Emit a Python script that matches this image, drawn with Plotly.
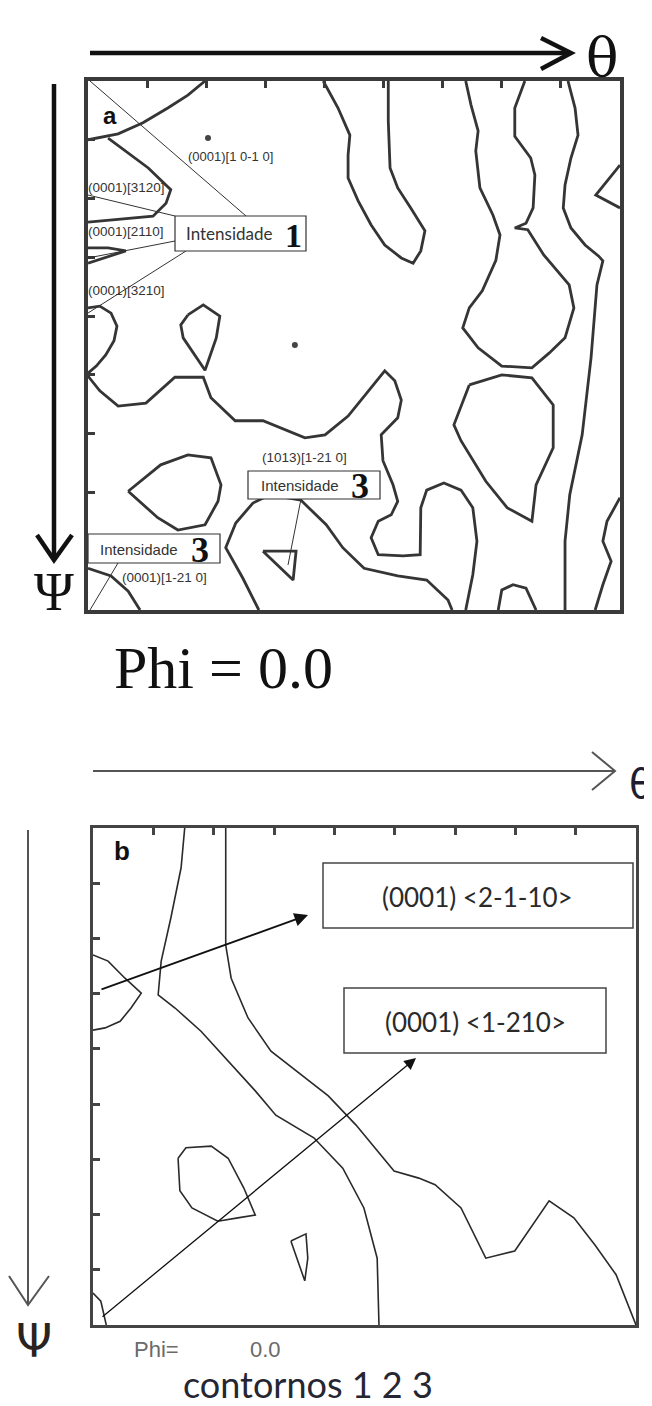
import plotly.graph_objects as go

W, H = 652, 1406

# ---- panel a (Phi = 0.0): contour lines, theta / psi in degrees ----
A1_T = [19.8, 16.9, 13.5, 9.3, 5.1, 0]
A1_P = [0, 2.4, 4.6, 7.1, 9.0, 10.0]
A2_T = [3.4, 6.8, 10.2, 14.0, 13.2, 11.0, 5.1, 0]
A2_P = [9.7, 12.2, 14.8, 18.5, 20.8, 23.0, 23.5, 24.0]
A3_T = [0, 3.4, 6.4, 3.4, 0]
A3_P = [28.4, 28.4, 28.9, 29.9, 31.0]
A4_T = [0, 2.0, 3.9, 4.9, 4.4, 3.0, 1.4, 0]
A4_P = [38.6, 38.3, 39.5, 41.7, 44.2, 46.6, 48.5, 49.7]
A5_T = [16.9, 19.5, 22.3, 21.7, 19.8, 18.1, 16.1, 15.7, 16.9]
A5_P = [39.8, 38.1, 40.0, 43.7, 49.2, 46.6, 43.7, 41.5, 39.8]
A6_T = [0, 2.0, 5.1, 9.8, 14.7, 19.5, 20.8, 24.9, 29.6, 33.8, 36.7, 40.1, 44.0,
        50.2, 51.9, 53.0, 52.4, 49.6, 49.9, 51.6, 52.4, 51.3, 49.1, 47.9, 49.1,
        53.3, 56.2, 56.3, 57.3, 60.2, 63.1, 65.1, 65.8, 65.1, 63.9]
A6_P = [50.2, 52.7, 55.3, 54.8, 50.4, 50.4, 53.9, 57.8, 57.8, 59.5, 60.7, 60.2, 57.0,
        49.3, 51.0, 54.3, 57.3, 60.2, 64.6, 68.7, 71.5, 73.8, 74.9, 77.7, 80.6,
        80.8, 80.6, 72.6, 69.6, 68.4, 69.6, 72.6, 78.3, 84.0, 90]
A7_T = [39.8, 42.3, 44.3, 44.0, 44.0, 45.7, 47.9, 50.2, 53.0, 55.0, 56.3, 57.0,
        54.6, 52.4, 51.1, 50.8, 50.8]
A7_P = [0, 4.6, 9.2, 12.6, 16.5, 20.4, 24.5, 27.9, 30.1, 31.0, 28.9, 25.5,
        21.6, 18.2, 14.8, 6.8, 0]
A8_T = [73.9, 72.2, 72.2, 74.9, 75.6, 75.3, 74.1, 72.2, 74.4, 77.1, 81.4, 82.2,
        80.7, 78.0, 75.1, 70.0, 66.0, 63.4, 64.5, 66.7, 69.0, 69.7, 68.5, 66.3,
        65.6, 66.0, 64.8, 63.9]
A8_P = [0, 4.6, 9.4, 13.1, 16.0, 21.6, 24.2, 25.0, 25.3, 29.6, 34.7, 38.6,
        43.7, 46.3, 48.8, 48.5, 45.4, 42.0, 38.6, 35.7, 30.5, 26.2, 22.8, 18.2,
        11.9, 8.5, 4.1, 0]
A9_T = [81.2, 82.4, 82.9, 81.7, 80.7, 80.4, 81.7, 84.1, 86.4, 87.1, 86.1, 85.8,
        85.1, 83.6, 81.5, 80.7, 80.7]
A9_P = [0, 4.6, 9.2, 13.1, 17.7, 21.6, 25.0, 27.9, 29.8, 30.6, 34.7, 38.6,
        47.1, 60.2, 70.4, 78.3, 90]
A10_T = [64.5, 70.0, 75.1, 78.7, 78.7, 75.8, 75.1, 70.9, 67.3, 63.1, 61.9, 63.8, 64.5]
A10_P = [51.7, 50.0, 50.5, 55.1, 62.4, 68.7, 74.9, 72.6, 68.1, 61.2, 58.5, 53.4, 51.7]
A11_T = [90, 87.8, 87.1, 88.5, 87.1, 85.8]
A11_P = [70.9, 74.9, 78.3, 81.7, 85.7, 90]
A12_T = [69.4, 70.0, 71.9, 74.1, 75.8]
A12_P = [90, 86.6, 85.7, 86.3, 90]
A13_T = [90, 85.9, 90]
A13_P = [14.3, 19.4, 21.6]
A14_T = [6.8, 12.3, 16.9, 20.8, 22.5, 22.0, 19.8, 15.2, 11.8, 6.8]
A14_P = [69.8, 65.3, 63.6, 64.1, 68.7, 71.5, 75.5, 76.4, 74.3, 69.8]
A15_T = [0, 3.9, 6.8, 8.8]
A15_P = [82.9, 84.2, 86.8, 90]
A16_T = [28.9, 26.2, 23.3, 25.0, 27.9, 30.8, 36.0, 40.3, 43.1, 46.7, 52.4, 57.3, 60.9, 61.6]
A16_P = [90, 84.6, 79.4, 75.2, 71.8, 70.4, 71.3, 75.5, 79.4, 82.9, 84.2, 84.9, 88.3, 90]
A17_T = [29.6, 35.2, 34.7, 29.6]
A17_P = [80.0, 80.0, 84.9, 80.0]
DOTS_T = [20.3, 35.0]
DOTS_P = [9.7, 44.9]

# ---- panel b (contornos 1 2 3) ----
B1_T = [0, 2.5, 5.3, 8.0, 6.3, 4.5, 2.0, 0]
B1_P = [23.0, 24.1, 27.2, 29.9, 32.6, 35.0, 36.2, 36.6]
B2_T = [15.2, 14.6, 12.9, 11.3, 10.8, 13.6, 17.9, 22.4, 26.9, 30.3, 36.6, 41.4,
        44.9, 47.1, 47.4]
B2_P = [0, 7.2, 16.3, 24.1, 30.2, 32.6, 36.8, 42.2, 47.6, 52.0, 56.1, 61.6,
        68.8, 77.9, 90]
B3_T = [22.0, 22.0, 22.9, 25.7, 29.5, 34.5, 39.0, 43.6, 49.9, 54.0, 56.7, 61.0,
        65.1, 69.9, 75.6, 79.7, 83.2, 86.7, 90]
B3_P = [0, 21.2, 27.2, 34.4, 40.4, 44.7, 48.5, 53.8, 62.1, 63.4, 64.6, 68.8,
        77.9, 76.6, 67.5, 70.6, 75.5, 80.9, 90]
B4_T = [14.1, 15.4, 19.6, 22.4, 25.0, 26.9, 24.0, 20.7, 16.4, 14.4, 14.1]
B4_P = [59.8, 57.9, 57.6, 59.8, 65.2, 70.1, 70.6, 71.2, 68.8, 65.7, 59.8]
B5_T = [32.8, 35.3, 35.6, 35.1, 32.8]
B5_P = [74.8, 73.5, 77.9, 82.0, 74.8]
B6_T = [0, 1.3, 2.2]
B6_P = [84.2, 85.7, 90]

PANEL_A = [(A1_T, A1_P), (A2_T, A2_P), (A3_T, A3_P), (A4_T, A4_P), (A5_T, A5_P),
           (A6_T, A6_P), (A7_T, A7_P), (A8_T, A8_P), (A9_T, A9_P), (A10_T, A10_P),
           (A11_T, A11_P), (A12_T, A12_P), (A13_T, A13_P), (A14_T, A14_P),
           (A15_T, A15_P), (A16_T, A16_P), (A17_T, A17_P)]
PANEL_B = [(B1_T, B1_P), (B2_T, B2_P), (B3_T, B3_P), (B4_T, B4_P), (B5_T, B5_P),
           (B6_T, B6_P)]


def px(x):
    return x / W


def py(y):
    return 1 - y / H


fig = go.Figure()
for t, p in PANEL_A:
    fig.add_trace(go.Scatter(x=t, y=p, mode="lines", xaxis="x", yaxis="y",
                             line=dict(color="#353535", width=2.8),
                             showlegend=False, hoverinfo="skip"))
fig.add_trace(go.Scatter(x=DOTS_T, y=DOTS_P, mode="markers", xaxis="x", yaxis="y",
                         marker=dict(color="#444", size=6),
                         showlegend=False, hoverinfo="skip"))
for t, p in PANEL_B:
    fig.add_trace(go.Scatter(x=t, y=p, mode="lines", xaxis="x2", yaxis="y2",
                             line=dict(color="#2a2a2a", width=1.6),
                             showlegend=False, hoverinfo="skip"))

frame = dict(range=[0, 90], dtick=10, tick0=0, showticklabels=False, showgrid=False,
             zeroline=False, showline=True, mirror=True, ticks="inside", fixedrange=True)
fig.update_layout(
    width=W, height=H, margin=dict(l=0, r=0, t=0, b=0),
    paper_bgcolor="white", plot_bgcolor="white",
    xaxis=dict(frame, domain=[px(80), px(612)], side="top", anchor="y",
               linecolor="#3a3a3a", linewidth=3.5, ticklen=7, tickwidth=3, tickcolor="#3a3a3a"),
    yaxis=dict(frame, domain=[py(602), py(73)], range=[90, 0], anchor="x",
               linecolor="#3a3a3a", linewidth=3.5, ticklen=7, tickwidth=3, tickcolor="#3a3a3a"),
    xaxis2=dict(frame, domain=[px(85), px(628)], side="top", anchor="y2",
                linecolor="#444", linewidth=2.5, ticklen=7, tickwidth=3, tickcolor="#444"),
    yaxis2=dict(frame, domain=[py(1317), py(820)], range=[90, 0], anchor="x2",
                linecolor="#444", linewidth=2.5, ticklen=7, tickwidth=3, tickcolor="#444"),
)

shapes = []


def seg(x0, y0, x1, y1, color="#333", width=1.0):
    shapes.append(dict(type="line", xref="paper", yref="paper",
                       x0=px(x0), y0=py(y0), x1=px(x1), y1=py(y1),
                       line=dict(color=color, width=width)))


def path(pts, color, width):
    d = "M " + " L ".join(f"{px(x)},{py(y)}" for x, y in pts)
    shapes.append(dict(type="path", xref="paper", yref="paper", path=d,
                       line=dict(color=color, width=width)))


def box(x0, y0, x1, y1, width=1.2, color="#333"):
    shapes.append(dict(type="rect", xref="paper", yref="paper",
                       x0=px(x0), y0=py(y1), x1=px(x1), y1=py(y0),
                       fillcolor="white", line=dict(color=color, width=width)))


# axis arrows, panel a (thick black)
seg(82, 45, 561, 45, "#111", 4.5)
path([(533, 30), (563, 45), (533, 61)], "#111", 4.5)
seg(46, 76, 46, 549, "#111", 4.5)
path([(29, 527), (46, 552), (64, 527)], "#111", 4.5)
# axis arrows, panel b (thin grey)
seg(85, 763, 606, 763, "#555", 2)
path([(584, 744), (607, 763), (584, 782)], "#555", 2)
seg(20, 822, 20, 1296, "#555", 2)
path([(1, 1268), (20, 1297), (41, 1268)], "#555", 2)

# leader lines, panel a
seg(82, 73, 238, 208)
seg(80, 187, 167, 208)
seg(80, 250, 167, 233)
seg(80, 305, 178, 243)
seg(293, 491, 280, 557)
seg(110, 555, 82, 602)

# label boxes
box(167, 208, 298, 243)
box(240, 463, 372, 491)
box(80, 526, 212, 555)
box(315, 855, 625, 920, 1.5, "#444")
box(336, 980, 598, 1045, 1.5, "#444")

ann = []


def text(x, y, s, size, family="Liberation Sans", color="#222", anchor="left", bold=False):
    if bold:
        s = "<b>" + s + "</b>"
    ann.append(dict(xref="paper", yref="paper", x=px(x), y=py(y), text=s,
                    showarrow=False, xanchor=anchor, yanchor="middle",
                    font=dict(size=size, family=family, color=color)))


text(93, 108, "a", 24, bold=True, color="#111")
text(594, 50, "θ", 54, "DejaVu Serif", "#111", "center")
text(46, 584, "Ψ", 54, "Liberation Serif", "#111", "center")
text(215, 660, "Phi = 0.0", 60, "Liberation Serif", "#111", "center")

text(178, 149, "(0001)[1 0-1 0]", 13, color="#333")
text(78, 179, "(0001)[3120]", 13.5, color="#333")
text(78, 223, "(0001)[2110]", 13.5, color="#333")
text(78, 282, "(0001)[3210]", 13.5, color="#333")
text(252, 450, "(1013)[1-21 0]", 13.5, color="#333")
text(112, 569, "(0001)[1-21 0]", 13.5, color="#333")

text(176, 226, "Intensidade", 17, "Lato", "#333")
text(285, 227, "1", 34, "Liberation Serif", "#111", "center", bold=True)
text(251, 477, "Intensidade", 15, color="#333")
text(352, 478, "3", 36, "Liberation Serif", "#111", "center", bold=True)
text(90, 541, "Intensidade", 15, color="#333")
text(192, 542, "3", 36, "Liberation Serif", "#111", "center", bold=True)

text(104, 843, "b", 26, bold=True, color="#111")
text(633, 776, "θ", 40, "DejaVu Sans", "#1e1e30", "center")
text(26, 1333, "Ψ", 46, "DejaVu Sans", "#2a2420", "center")
text(470, 889, "(0001) &lt;2-1-10&gt;", 26, "Lato", "#2a2a2a", "center")
text(467, 1014, "(0001) &lt;1-210&gt;", 26, "Lato", "#2a2a2a", "center")
text(124, 1341, "Phi=", 22, color="#6a6a6a")
text(240, 1341, "0.0", 22, color="#6a6a6a")
text(300, 1376, "contornos 1 2 3", 36, "Lato", "#262633", "center")

# arrows pointing to the orientation boxes, panel b
ann.append(dict(xref="paper", yref="paper", x=px(300), y=py(907), ax=92 - 300, ay=982 - 907,
                showarrow=True, arrowhead=2, arrowsize=1.5, arrowwidth=1.8,
                arrowcolor="#111", text=""))
ann.append(dict(xref="paper", yref="paper", x=px(408), y=py(1050), ax=93 - 408, ay=1310 - 1050,
                showarrow=True, arrowhead=2, arrowsize=1.8, arrowwidth=1.3,
                arrowcolor="#111", text=""))

fig.update_layout(shapes=shapes, annotations=ann)
fig.write_html("out.html")
